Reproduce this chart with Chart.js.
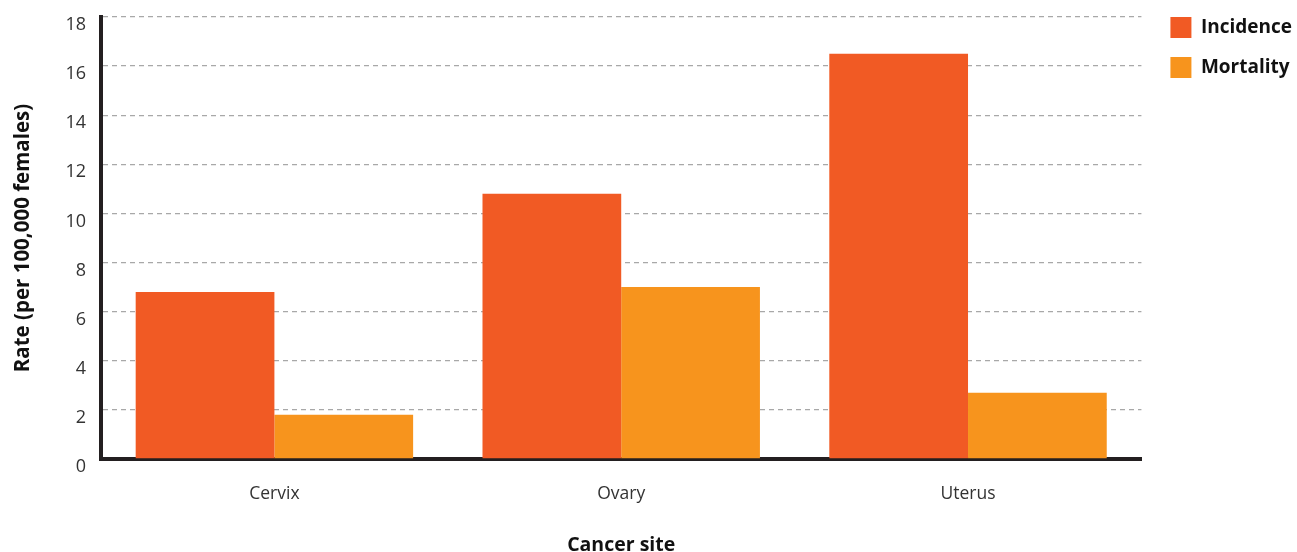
<!DOCTYPE html>
<html lang="en">
<head>
  <meta charset="UTF-8">
  <title>Cancer incidence and mortality</title>
  <script src="https://cdn.jsdelivr.net/npm/chart.js"></script>
  <style>
    html, body { margin: 0; padding: 0; background: #fff; }
    .chart-box { position: relative; width: 1297px; height: 552px; }
  </style>
</head>
<body>
  <div class="chart-box"><canvas id="chart"></canvas></div>

  <script>
    const sites = ['Cervix', 'Ovary', 'Uterus'];
    const incidence = [6.8, 10.8, 16.5];
    const mortality = [1.8, 7.0, 2.7];

    const axisColor = '#231f20';
    const font = '"Open Sans", "Noto Sans", sans-serif';

    // move the legend up to the top right corner, like the original
    const nudgeLegend = {
      id: 'nudgeLegend',
      afterLayout(chart) {
        const lg = chart.legend;
        if (!lg) return;
        lg.left += 10; lg.right += 10;
        lg.top -= 19; lg.bottom -= 19;
      }
    };

    const ctx = document.getElementById('chart').getContext('2d');
    new Chart(ctx, {
      type: 'bar',
      data: {
        labels: sites,
        datasets: [
          { label: 'Incidence', data: incidence, backgroundColor: '#f15a24' },
          { label: 'Mortality', data: mortality, backgroundColor: '#f7941d' }
        ]
      },
      plugins: [nudgeLegend],
      options: {
        responsive: true,
        maintainAspectRatio: false,
        animation: false,
        layout: { padding: { top: 17, right: 5, left: 0, bottom: 0 } },
        datasets: { bar: { barPercentage: 1.0, categoryPercentage: 0.8 } },
        plugins: {
          tooltip: { enabled: false },
          legend: {
            position: 'right',
            align: 'start',
            labels: {
              boxWidth: 21,
              boxHeight: 21,
              padding: 19,
              color: '#111',
              font: { family: font, size: 19, weight: 'bold' }
            }
          }
        },
        scales: {
          x: {
            grid: { display: false },
            border: { display: true, width: 4, color: axisColor },
            ticks: { color: '#333', padding: 17, font: { family: font, size: 17.5 } },
            title: {
              display: true, text: 'Cancer site', color: '#111',
              padding: { top: 0, bottom: -5 },
              font: { family: font, size: 19.5, weight: 'bold' }
            },
            afterFit: s => { s.height = 93; }
          },
          y: {
            min: 0,
            max: 18,
            ticks: { stepSize: 2, color: '#333', padding: 3, labelOffset: 8, font: { family: font, size: 18 } },
            grid: { color: '#a8a8a8', lineWidth: 1.3, drawTicks: true, tickLength: 12, tickColor: 'rgba(0,0,0,0)' },
            border: { display: true, width: 4, color: axisColor, dash: [5, 4] },
            title: {
              display: true, text: 'Rate (per 100,000 females)', color: '#111',
              padding: { top: 11, bottom: 0 },
              font: { family: font, size: 20.5, weight: 'bold' }
            },
            afterFit: s => { s.width = 101; }
          }
        }
      }
    });
  </script>
</body>
</html>
